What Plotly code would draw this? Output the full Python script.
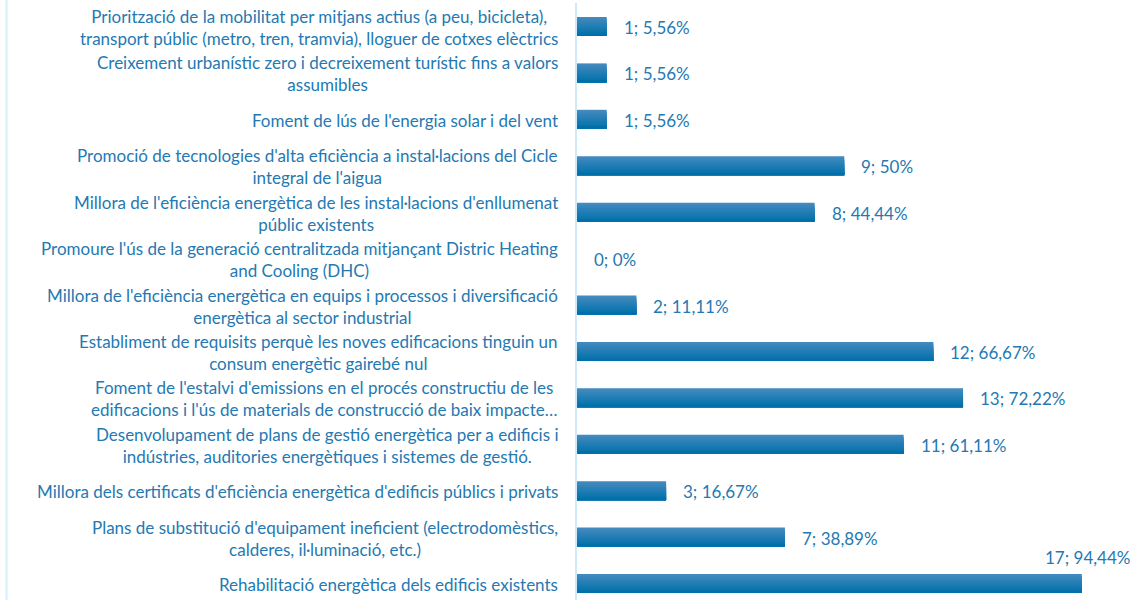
import plotly.graph_objects as go

# Measures (top to bottom), number of responses and share of the 18 answers
categories = [
    "Priorització de la mobilitat per mitjans actius (a peu, bicicleta),<br>transport públic (metro, tren, tramvia), lloguer de cotxes elèctrics",
    "Creixement urbanístic zero i decreixement turístic fins a valors<br>assumibles",
    "Foment de lús de l'energia solar i del vent",
    "Promoció de tecnologies d'alta eficiència a instal·lacions del Cicle<br>integral de l'aigua",
    "Millora de l'eficiència energètica de les instal·lacions d'enllumenat<br>públic existents",
    "Promoure l'ús de la generació centralitzada mitjançant Distric Heating<br>and Cooling (DHC)",
    "Millora de l'eficiència energètica en equips i processos i diversificació<br>energètica al sector industrial",
    "Establiment de requisits perquè les noves edificacions tinguin un<br>consum energètic gairebé nul",
    "Foment de l'estalvi d'emissions en el procés constructiu de les<br>edificacions i l'ús de materials de construcció de baix impacte…",
    "Desenvolupament de plans de gestió energètica per a edificis i<br>indústries, auditories energètiques i sistemes de gestió.",
    "Millora dels certificats d'eficiència energètica d'edificis públics i privats",
    "Plans de substitució d'equipament ineficient (electrodomèstics,<br>calderes, il·luminació, etc.)",
    "Rehabilitació energètica dels edificis existents",
]
counts = [1, 1, 1, 9, 8, 0, 2, 12, 13, 11, 3, 7, 17]
percents = ["5,56%", "5,56%", "5,56%", "50%", "44,44%", "0%", "11,11%",
            "66,67%", "72,22%", "61,11%", "16,67%", "38,89%", "94,44%"]

TEXT = "#2479B2"
FONT = "Lato"
BAR_W = 0.41

fig = go.Figure()

# vertical gradient on the bars: overlapping strips, light at the top, dark at the bottom
top_rgb = (66, 138, 190)
bot_rgb = (0, 112, 170)
n = 10
for k in range(n):
    t = k / (n - 1)
    rgb = tuple(round(a + (b - a) * t) for a, b in zip(top_rgb, bot_rgb))
    off = -BAR_W / 2 + k * BAR_W / n
    fig.add_trace(go.Bar(
        x=counts, y=categories, orientation="h",
        offset=off, width=BAR_W / 2 - off,
        marker=dict(color="rgb(%d,%d,%d)" % rgb, line=dict(width=0)),
        hoverinfo="skip", showlegend=False,
    ))

annotations = []
for i, (cat, c, p) in enumerate(zip(categories, counts, percents)):
    annotations.append(dict(
        x=0, y=cat, xref="x", yref="y", text=cat, showarrow=False,
        xanchor="right", yanchor="middle", align="center", xshift=-17,
        yshift=-1,
        font=dict(family=FONT, size=17, color=TEXT),
    ))
    label = f"{c}; {p}"
    if c == max(counts):
        annotations.append(dict(
            x=c, y=cat, xref="x", yref="y", text=label, showarrow=False,
            xanchor="right", yanchor="middle", xshift=50, yshift=26,
            font=dict(family=FONT, size=17, color=TEXT),
        ))
    else:
        annotations.append(dict(
            x=c, y=cat, xref="x", yref="y", text=label, showarrow=False,
            xanchor="left", yanchor="middle", xshift=15, yshift=-1,
            font=dict(family=FONT, size=17, color=TEXT),
        ))

fig.update_layout(
    width=1140, height=600,
    margin=dict(l=577, r=0, t=3, b=0),
    paper_bgcolor="white", plot_bgcolor="white",
    barmode="overlay",
    annotations=annotations,
    shapes=[dict(type="line", xref="paper", yref="paper",
                 x0=-1.0133, x1=-1.0133, y0=-0.01, y1=1.01,
                 line=dict(color="#D6EEFA", width=2))],
    xaxis=dict(range=[0, 18.96], visible=False, fixedrange=True),
    yaxis=dict(range=[12.355, -0.506], showticklabels=False, ticks="",
               showgrid=False, zeroline=False,
               showline=True, linecolor="#CFE9F8", linewidth=2),
)

fig.write_html("out.html")
